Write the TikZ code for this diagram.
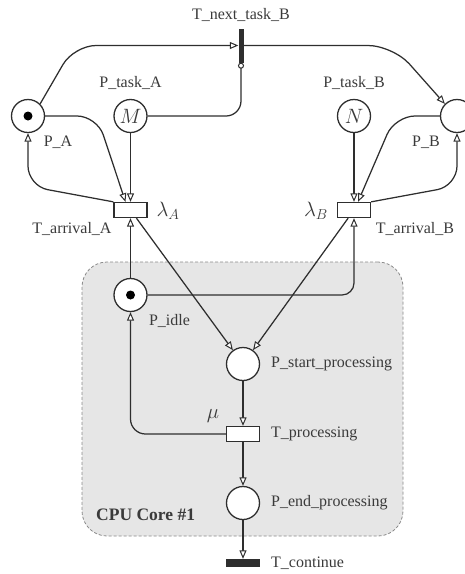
\documentclass[tikz,border=0pt]{standalone}
\usepackage{fontspec}
\setmainfont{Liberation Serif}
\usetikzlibrary{arrows.meta}
\definecolor{ln}{HTML}{2E2E2E}
\definecolor{tx}{HTML}{3A3A3A}
\definecolor{boxfill}{HTML}{E6E6E6}
\definecolor{boxline}{HTML}{8A8A8A}
\begin{document}
\begin{tikzpicture}[x=1pt,y=-1pt,
  place/.style={circle,draw=ln,fill=white,line width=1.3pt,minimum size=33pt,inner sep=0pt},
  trans/.style={rectangle,draw=ln,fill=white,line width=1.3pt,minimum width=33pt,minimum height=15pt,inner sep=0pt},
  bar/.style={rectangle,fill=ln,draw=none,inner sep=0pt},
  arc/.style={draw=ln,line width=1.25pt,-{Triangle[length=8.5pt,width=7pt,fill=white,line width=1pt]}},
  inh/.style={draw=ln,line width=1.25pt,-{Circle[length=6pt,fill=white,line width=1pt]}},
  lbl/.style={text=tx,font=\fontsize{16}{18}\selectfont,inner sep=0pt},
  rate/.style={text=tx,font=\fontsize{21}{24}\selectfont,inner sep=0pt},
  tok/.style={circle,fill=black,minimum size=9pt,inner sep=0pt}
]
\useasboundingbox (0,0) rectangle (465,574);

% CPU core region
\node[draw=boxline,fill=boxfill,dash pattern=on 3pt off 2pt,line width=0.8pt,rounded corners=25pt,
      minimum width=321pt,minimum height=274pt,inner sep=0pt] (cpu) at (242.5,399) {};
\node[text=tx,font=\fontsize{17.5}{20}\selectfont\bfseries,anchor=west,inner sep=0pt] (cpulbl) at (96,515) {CPU Core \#1};

% places
\node[place] (PA) at (28,116) {};
\node[tok] (tokA) at (PA) {};
\node[place,text=tx] (PtA) at (130.5,116) {\fontsize{20}{22}\selectfont$M$};
\node[place,text=tx] (PtB) at (354,116) {\fontsize{20}{22}\selectfont$N$};
\node[place] (PB) at (457,116) {};
\node[place] (Pidle) at (130.5,295) {};
\node[tok] (tokI) at (Pidle) {};
\node[place] (Pstart) at (243,364) {};
\node[place] (Pend) at (243,503) {};

% transitions
\node[bar,minimum width=5pt,minimum height=34pt] (TB) at (241,45.5) {};
\node[trans] (TA) at (130.5,210) {};
\node[trans] (TBr) at (354,210) {};
\node[trans] (Tproc) at (243,434) {};
\node[bar,minimum width=34pt,minimum height=8pt] (Tcont) at (243,563) {};

% labels
\node[lbl] (lTB) at (241,15) {T\_next\_task\_B};
\node[lbl] (lPtA) at (130.5,83) {P\_task\_A};
\node[lbl] (lPtB) at (354,83) {P\_task\_B};
\node[lbl] (lPA) at (58,142) {P\_A};
\node[lbl] (lPB) at (426,142) {P\_B};
\node[lbl] (lTA) at (72,229) {T\_arrival\_A};
\node[lbl] (lTBr) at (415,229) {T\_arrival\_B};
\node[rate] (lamA) at (168,211) {$\lambda_A$};
\node[rate] (lamB) at (316,211) {$\lambda_B$};
\node[lbl] (lPidle) at (169.5,321) {P\_idle};
\node[lbl,anchor=west] (lPstart) at (271,364) {P\_start\_processing};
\node[rate] (mu) at (213,416) {$\mu$};
\node[lbl,anchor=west] (lTproc) at (271,434) {T\_processing};
\node[lbl,anchor=west] (lPend) at (271,503) {P\_end\_processing};
\node[lbl,anchor=west] (lTcont) at (271,563) {T\_continue};

% arcs
\draw[arc,rounded corners=22pt] (PA.north east) -- (74,45.5) -- (TB.west);
\draw[arc,rounded corners=25pt] (TB.east) -- (393,45.5) -- (PB.north west);
\draw[inh,rounded corners=15pt] (PtA.east) -- (241,116) -- (TB.south);
\draw[arc,rounded corners=20pt] (PA.east) -- (97,116) -- ([xshift=-5pt]TA.north);
\draw[arc] (PtA) -- (TA);
\draw[arc,rounded corners=20pt] (TA.north west) -- (28,186) -- (PA.south);
\draw[arc] (TA) -- (Pstart);
\draw[arc] (Pidle) -- (TA);
\draw[arc,rounded corners=12pt] (Pidle.east) -- (354,295) -- (TBr.south);
\draw[arc] (TBr) -- (Pstart);
\draw[arc] (PtB) -- (TBr);
\draw[arc,rounded corners=20pt] (PB.west) -- (395,116) -- ([xshift=4pt]TBr.north);
\draw[arc,rounded corners=20pt] (TBr.north east) -- (457,186) -- (PB.south);
\draw[arc] (Pstart) -- (Tproc);
\draw[arc,rounded corners=15pt] (Tproc.west) -- (130.5,434) -- (Pidle.south);
\draw[arc] (Tproc) -- (Pend);
\draw[arc] (Pend) -- (Tcont);
\end{tikzpicture}
\end{document}
